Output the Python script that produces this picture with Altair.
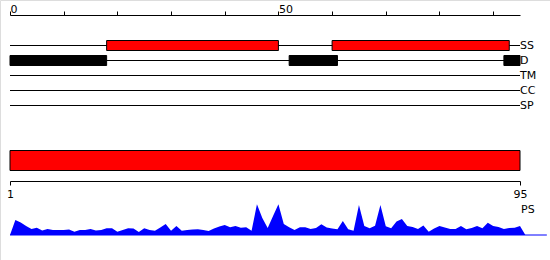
import altair as alt
import pandas as pd

# ---- data ----
tracks = ["SS", "D", "TM", "CC", "SP"]
track_row = [0, 1, 2, 3, 4]
track_start = [0, 0, 0, 0, 0]
track_end = [95, 95, 95, 95, 95]

ss_start = [18, 60]
ss_end = [50, 93]

d_start = [0, 52, 92]
d_end = [18, 61, 95]

top_ticks = [0, 10, 20, 30, 40, 50, 60, 70, 80, 90]
top_labelled = [0, 50]

protein_start = [1]
protein_end = [95]
bottom_ticks = [1, 95]

ps_pos = list(range(97))
ps_val = [0, 15, 12.5, 9, 6, 7.3, 4.5, 6, 5, 5,
          5, 5.5, 3.3, 5, 5, 6, 4.5, 5, 6.7, 6.7,
          3.3, 5, 6.7, 6.5, 3, 6.7, 5, 4.3, 7.5, 11,
          4.3, 9, 4.3, 5, 5.5, 5.7, 5, 4, 6.5, 8.5,
          10, 7.7, 9, 7.3, 7.7, 4.3, 30.7, 17, 7, 19,
          30.7, 11, 7.7, 5, 7.7, 7.7, 6, 7, 10.7, 7.5,
          6.5, 5.7, 14, 5.7, 4.3, 30, 9, 6.7, 9.3, 30,
          8.7, 6.7, 13.5, 16, 9, 8, 6, 9.5, 3.3, 6.5,
          9, 7.5, 6, 6, 9, 5.7, 7, 9, 6.7, 12.3,
          9, 8, 6, 7, 7.3, 9, 0]
ps_axis_end = [100]

# ---- tables ----
track_df = pd.DataFrame({"track": tracks, "row": track_row,
                         "start": track_start, "end": track_end})
ss_df = pd.DataFrame({"row": [0] * len(ss_start), "start": ss_start, "end": ss_end})
d_df = pd.DataFrame({"row": [1] * len(d_start), "start": d_start, "end": d_end})
prot_df = pd.DataFrame({"start": protein_start, "end": protein_end})
ps_df = pd.DataFrame({"pos": ps_pos, "val": ps_val})
ps_base_df = pd.DataFrame({"start": [0], "end": ps_axis_end})

FONT = "DejaVu Sans"


def xs():
    return alt.Scale(domain=[0, 95], range=[10, 520], nice=False, zero=False)


def ys_tr():
    return alt.Scale(domain=[0, 4], range=[45.5, 105.5], nice=False, zero=False)


top_axis = alt.Axis(orient="top", offset=-15, values=top_ticks, tickSize=4,
                    labelExpr="indexof([%s], datum.value) >= 0 ? datum.label : ''" %
                              ",".join(str(v) for v in top_labelled),
                    labelAlign="left", labelPadding=-3, labelFont=FONT, labelFontSize=11,
                    labelColor="black", domainColor="black", tickColor="black",
                    grid=False, title=None, labelFlush=False, labelOverlap=False)

lines = alt.Chart(track_df).mark_rule(color="black", strokeWidth=1).encode(
    x=alt.X("start:Q", scale=xs(), axis=top_axis),
    x2="end:Q",
    y=alt.Y("row:Q", scale=ys_tr(), axis=None),
)

labels = alt.Chart(track_df).mark_text(align="left", baseline="middle", font=FONT,
                                       fontSize=11, color="black").encode(
    x=alt.X("end:Q", scale=xs(), axis=None),
    y=alt.Y("row:Q", scale=ys_tr(), axis=None),
    text="track:N",
)


def bars(df, fill):
    return alt.Chart(df).transform_calculate(
        y0="datum.row - 1/3", y1="datum.row + 1/3"
    ).mark_rect(fill=fill, stroke="black", strokeWidth=1).encode(
        x=alt.X("start:Q", scale=xs(), axis=None),
        x2="end:Q",
        y=alt.Y("y0:Q", scale=ys_tr(), axis=None),
        y2="y1:Q",
    )


ss_bars = bars(ss_df, "#ff0000")
d_bars = bars(d_df, "#000000")

bottom_axis = alt.Axis(orient="bottom", offset=-79, values=bottom_ticks, tickSize=4,
                       labelPadding=3, labelFont=FONT, labelFontSize=11, labelColor="black",
                       domainColor="black", tickColor="black", grid=False, title=None,
                       labelFlush=False, labelOverlap=False, format="d")

prot = alt.Chart(prot_df).mark_rect(fill="#ff0000", stroke="black", strokeWidth=1).encode(
    x=alt.X("start:Q", scale=alt.Scale(domain=[1, 95], range=[10, 520], nice=False, zero=False),
            axis=bottom_axis),
    x2="end:Q",
    y=alt.value(150.5),
    y2=alt.value(170.5),
)


def ys_ps():
    return alt.Scale(domain=[0, 31], range=[235, 204], nice=False, zero=False)


ps_area = alt.Chart(ps_df).mark_area(color="#0000ff", opacity=1).encode(
    x=alt.X("pos:Q", scale=xs(), axis=None),
    y=alt.Y("val:Q", scale=ys_ps(), axis=None),
)

ps_base = alt.Chart(ps_base_df).mark_rule(color="#0000ff", strokeWidth=1).encode(
    x=alt.X("start:Q", scale=xs(), axis=None),
    x2="end:Q",
    y=alt.value(235),
)

ps_label = alt.Chart(pd.DataFrame({"t": ["PS"]})).mark_text(
    align="left", baseline="middle", font=FONT, fontSize=11, color="black"
).encode(x=alt.value(521), y=alt.value(210), text="t:N")

chart = alt.layer(
    lines, ss_bars, d_bars, labels, prot, ps_area, ps_base, ps_label
).resolve_scale(x="independent", y="independent").properties(
    width=550, height=260, padding=0,
    autosize=alt.AutoSizeParams(type="none"),
).configure_view(stroke=None).configure(background="white")

chart.save("out.html", embed_options={"renderer": "svg", "actions": False})
